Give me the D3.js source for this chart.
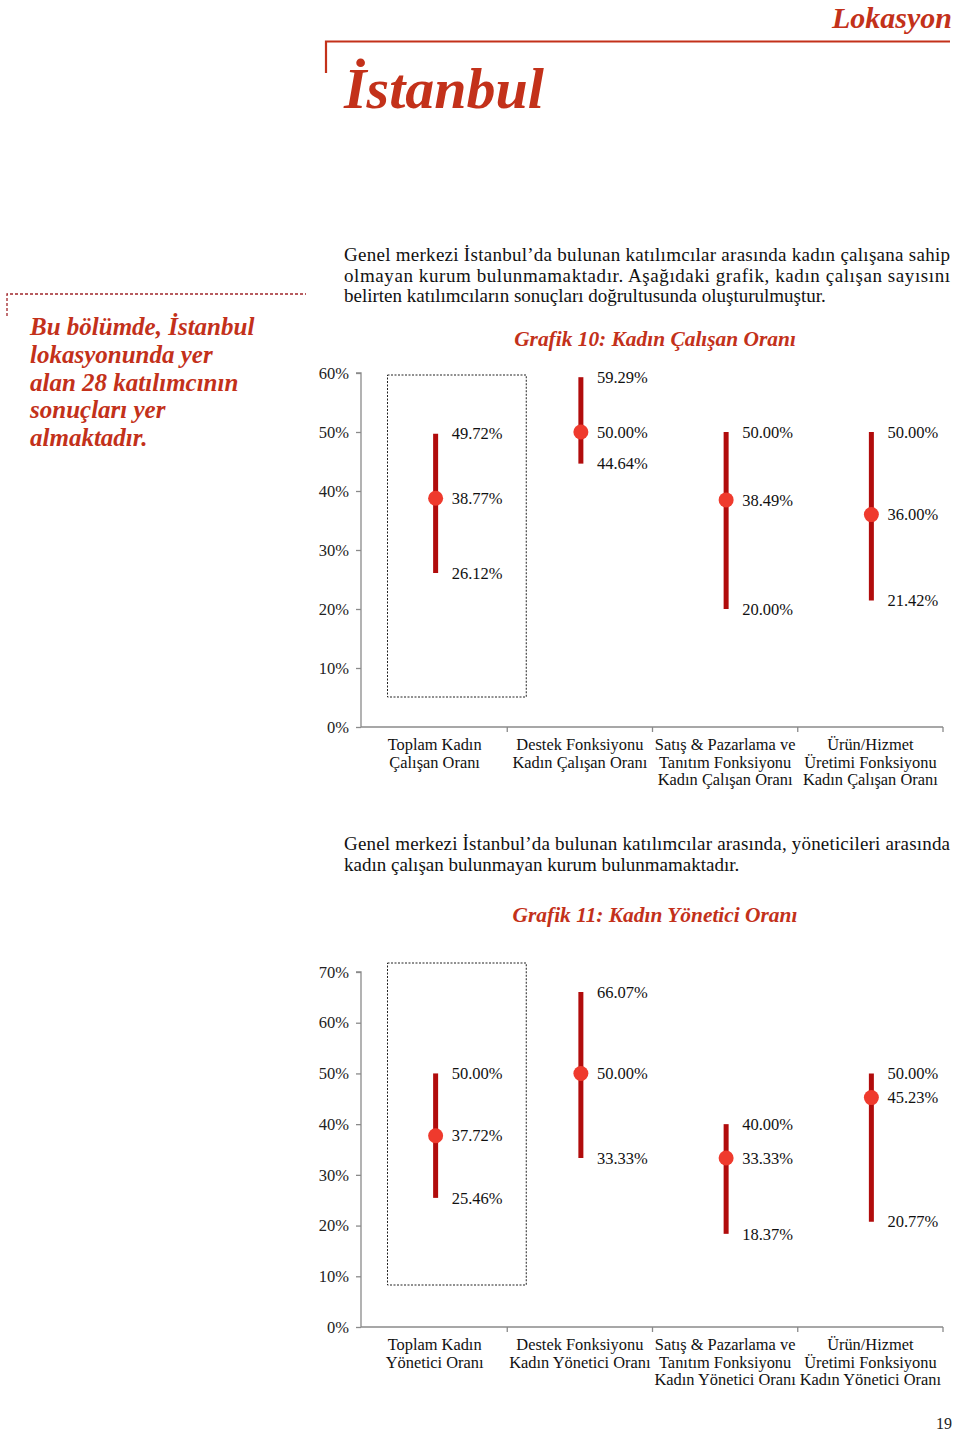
<!DOCTYPE html>
<html>
<head>
<meta charset="utf-8">
<script src="https://cdn.jsdelivr.net/npm/d3@7"></script>
<style>
  html, body { margin: 0; padding: 0; background: #fff; }
  svg { display: block; }
  text { font-family: "Liberation Serif", serif; }
</style>
</head>
<body>
<svg id="page" width="960" height="1432"></svg>
<script>
// ---------- DATA ----------
const categories1 = [
  ["Toplam Kadın", "Çalışan Oranı"],
  ["Destek Fonksiyonu", "Kadın Çalışan Oranı"],
  ["Satış & Pazarlama ve", "Tanıtım Fonksiyonu", "Kadın Çalışan Oranı"],
  ["Ürün/Hizmet", "Üretimi Fonksiyonu", "Kadın Çalışan Oranı"]
];
const high1 = [49.72, 59.29, 50.00, 50.00];
const mid1  = [38.77, 50.00, 38.49, 36.00];
const low1  = [26.12, 44.64, 20.00, 21.42];
const ticks1 = [0, 10, 20, 30, 40, 50, 60];

const categories2 = [
  ["Toplam Kadın", "Yönetici Oranı"],
  ["Destek Fonksiyonu", "Kadın Yönetici Oranı"],
  ["Satış & Pazarlama ve", "Tanıtım Fonksiyonu", "Kadın Yönetici Oranı"],
  ["Ürün/Hizmet", "Üretimi Fonksiyonu", "Kadın Yönetici Oranı"]
];
const high2 = [50.00, 66.07, 40.00, 50.00];
const mid2  = [37.72, 50.00, 33.33, 45.23];
const low2  = [25.46, 33.33, 18.37, 20.77];
const ticks2 = [0, 10, 20, 30, 40, 50, 60, 70];

const RED = "#C3311A";
const BAR = "#B10C0C";
const DOT = "#EF3A2D";

const svg = d3.select("#page");

// ---------- HEADER ----------
svg.append("text").attr("x", 952).attr("y", 28).attr("text-anchor", "end")
  .attr("fill", RED).attr("font-size", 30).attr("font-weight", "bold").attr("font-style", "italic")
  .text("Lokasyon");
svg.append("path").attr("d", "M326,73 V41.5 H950").attr("fill", "none")
  .attr("stroke", RED).attr("stroke-width", 2.2);
svg.append("text").attr("x", 344).attr("y", 108)
  .attr("fill", RED).attr("font-size", 58).attr("font-weight", "bold").attr("font-style", "italic")
  .text("İstanbul");

// left note box
svg.append("path").attr("d", "M7,316 V294 H306").attr("fill", "none")
  .attr("stroke", "#A0262A").attr("stroke-width", 1.3).attr("stroke-dasharray", "3,2");
const note = ["Bu bölümde, İstanbul", "lokasyonunda yer", "alan 28 katılımcının", "sonuçları yer", "almaktadır."];
svg.append("g").selectAll("text").data(note).join("text")
  .attr("x", 30).attr("y", (d, i) => 335 + i * 27.8)
  .attr("fill", RED).attr("font-size", 25).attr("font-weight", "bold").attr("font-style", "italic")
  .text(d => d);

// paragraphs
function paragraph(lines, x, y0, lh, justifyW) {
  const g = svg.append("g");
  lines.forEach((l, i) => {
    const t = g.append("text").attr("x", x).attr("y", y0 + i * lh)
      .attr("font-size", 19).attr("fill", "#111").text(l);
    if (i < lines.length - 1) t.attr("textLength", justifyW).attr("lengthAdjust", "spacing");
  });
}
paragraph([
  "Genel merkezi İstanbul’da bulunan katılımcılar arasında kadın çalışana sahip",
  "olmayan kurum bulunmamaktadır.  Aşağıdaki grafik, kadın çalışan sayısını",
  "belirten katılımcıların sonuçları doğrultusunda oluşturulmuştur."
], 344, 261, 20.7, 606);

paragraph([
  "Genel merkezi İstanbul’da bulunan katılımcılar arasında, yöneticileri arasında",
  "kadın çalışan bulunmayan kurum bulunmamaktadır."
], 344, 850, 21, 606);

// ---------- CHART FUNCTION ----------
function drawChart(opts) {
  const { cats, hi, md, lo, ticks, yTop, yBot, title, titleY, boxTop, boxBot } = opts;
  const g = svg.append("g");
  const x = d3.scaleBand().domain(d3.range(cats.length)).range([362, 943]).padding(0);
  const y = d3.scaleLinear().domain([0, d3.max(ticks)]).range([yBot, yTop]);

  g.append("text").attr("x", 655).attr("y", titleY).attr("text-anchor", "middle")
    .attr("fill", RED).attr("font-size", 21.4).attr("font-weight", "bold").attr("font-style", "italic")
    .text(title);

  // dashed highlight box around first category
  g.append("rect")
    .attr("x", x(0) + 25.5).attr("y", boxTop)
    .attr("width", x.bandwidth() - 6.5).attr("height", boxBot - boxTop)
    .attr("fill", "none").attr("stroke", "#222").attr("stroke-width", 1).attr("stroke-dasharray", "2,1.5");

  // y axis
  const ya = g.append("g").attr("transform", "translate(361,0)")
    .call(d3.axisLeft(y).tickValues(ticks).tickSize(5).tickPadding(7).tickFormat(d => d + "%"));
  ya.attr("font-family", null);
  ya.select(".domain").attr("stroke", "#8a8a8a").attr("stroke-width", 1.3).attr("d", `M-5,${y(d3.max(ticks))}H0V${yBot}`);
  ya.selectAll(".tick line").attr("stroke", "#8a8a8a").attr("stroke-width", 1.3);
  ya.selectAll(".tick text").attr("font-size", 16.5).attr("fill", "#222");

  // x axis
  g.append("line").attr("x1", 361).attr("x2", 943).attr("y1", yBot).attr("y2", yBot)
    .attr("stroke", "#8a8a8a").attr("stroke-width", 1.3);
  const seps = d3.range(cats.length + 1).map(i => i < cats.length ? x(i) : x(cats.length - 1) + x.bandwidth());
  g.selectAll(".xt").data(seps.slice(1)).join("line")
    .attr("x1", d => d).attr("x2", d => d).attr("y1", yBot).attr("y2", yBot + 5)
    .attr("stroke", "#8a8a8a").attr("stroke-width", 1.3);

  // category labels
  cats.forEach((lines, i) => {
    const t = g.append("text").attr("text-anchor", "middle").attr("font-size", 16.4).attr("fill", "#111");
    lines.forEach((l, j) => {
      t.append("tspan").attr("x", x(i) + x.bandwidth() / 2).attr("y", yBot + 23 + j * 17.5).text(l);
    });
  });

  // error bars
  const idx = d3.range(cats.length);
  const cx = i => x(i) + x.bandwidth() / 2 + 1;
  g.selectAll(".bar").data(idx).join("line")
    .attr("x1", cx).attr("x2", cx).attr("y1", i => y(hi[i])).attr("y2", i => y(lo[i]))
    .attr("stroke", BAR).attr("stroke-width", 5);
  g.selectAll(".dot").data(idx).join("circle")
    .attr("cx", cx).attr("cy", i => y(md[i])).attr("r", 7.5).attr("fill", DOT);

  const lab = (arr) => g.append("g").selectAll("text").data(idx).join("text")
    .attr("x", i => cx(i) + 16).attr("y", i => y(arr[i]))
    .attr("dy", "0.35em").attr("font-size", 16.5).attr("fill", "#111")
    .text(i => arr[i].toFixed(2) + "%");
  lab(hi); lab(md); lab(lo);
}

drawChart({
  cats: categories1, hi: high1, md: mid1, lo: low1, ticks: ticks1,
  yTop: 373, yBot: 727, title: "Grafik 10: Kadın Çalışan Oranı", titleY: 346,
  boxTop: 375, boxBot: 697
});
drawChart({
  cats: categories2, hi: high2, md: mid2, lo: low2, ticks: ticks2,
  yTop: 972, yBot: 1327, title: "Grafik 11: Kadın Yönetici Oranı", titleY: 922,
  boxTop: 963, boxBot: 1285
});

// page number
svg.append("text").attr("x", 952).attr("y", 1429).attr("text-anchor", "end")
  .attr("font-size", 16).attr("fill", "#222").text("19");
</script>
</body>
</html>
